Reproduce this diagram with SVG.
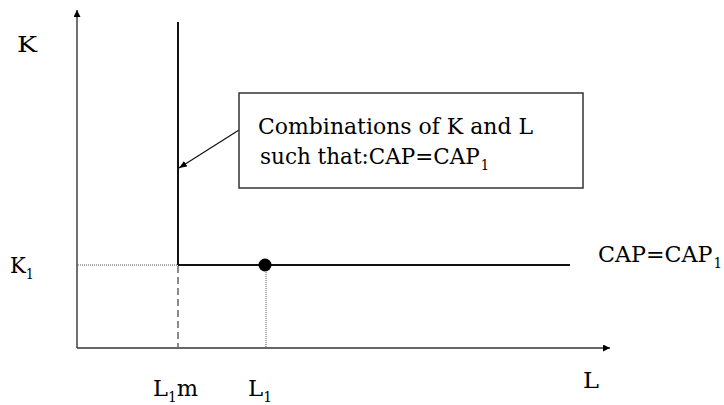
<svg xmlns="http://www.w3.org/2000/svg" width="724" height="405" viewBox="0 0 724 405">
<defs>
<style>
text{font-family:"DejaVu Serif","Liberation Serif",serif;fill:#000}
.t{font-size:23px}
.s{font-size:14px}
.axis{stroke:#333;stroke-width:1.4;fill:none}
.thick{stroke:#111;stroke-width:2;fill:none}
.dot{stroke:#555;stroke-width:1;stroke-dasharray:1 1;fill:none}
.dash{stroke:#666;stroke-width:1.5;stroke-dasharray:7 4;fill:none}
</style>
<marker id="ah" viewBox="0 0 10 10" refX="10" refY="5" markerWidth="7" markerHeight="7" markerUnits="userSpaceOnUse" orient="auto"><path d="M0,0 L10,5 L0,10 z" fill="#000"/></marker>
<marker id="ah2" viewBox="0 0 10 10" refX="10" refY="5" markerWidth="8" markerHeight="8" markerUnits="userSpaceOnUse" orient="auto"><path d="M0,1 L10,5 L0,9 z" fill="#000"/></marker>
</defs>
<g id="connectors">
<line class="axis" x1="77" y1="348" x2="77" y2="10" marker-end="url(#ah)"/>
<line class="axis" x1="77" y1="348" x2="610" y2="348" marker-end="url(#ah)"/>
<line class="thick" x1="178" y1="22" x2="178" y2="265"/>
<line class="thick" x1="178" y1="265" x2="570" y2="265"/>
<line class="dot" x1="78" y1="265" x2="177" y2="265"/>
<line class="dash" x1="178" y1="266" x2="178" y2="347"/>
<line class="dot" x1="266" y1="266" x2="266" y2="347"/>
<line stroke="#111" stroke-width="1.2" x1="239" y1="130" x2="179" y2="168" marker-end="url(#ah2)"/>
</g>
<g id="point">
<circle cx="265" cy="265" r="6.5" fill="#000"/>
</g>
<g id="box">
<rect x="239" y="93" width="344" height="95" fill="#fff" stroke="#333" stroke-width="1.5"/>
<text class="t" x="258" y="134" textLength="275" lengthAdjust="spacingAndGlyphs">Combinations of K and L</text>
<text class="t" x="260" y="164" font-size="22" textLength="229" lengthAdjust="spacingAndGlyphs">such that:CAP=CAP<tspan class="s" dx="1" dy="6">1</tspan></text>
</g>
<g id="labels">
<text class="t" x="17" y="52" textLength="20" lengthAdjust="spacingAndGlyphs">K</text>
<text class="t" x="10" y="273" textLength="24" lengthAdjust="spacingAndGlyphs">K<tspan class="s" dy="6">1</tspan></text>
<text class="t" x="598" y="262" textLength="124" lengthAdjust="spacingAndGlyphs">CAP=CAP<tspan class="s" dx="1" dy="6">1</tspan></text>
<text class="t" x="153" y="396" textLength="45" lengthAdjust="spacingAndGlyphs">L<tspan class="s" dy="6">1</tspan><tspan dy="-6">m</tspan></text>
<text class="t" x="248" y="396" textLength="24" lengthAdjust="spacingAndGlyphs">L<tspan class="s" dy="6">1</tspan></text>
<text class="t" x="583" y="388" textLength="16" lengthAdjust="spacingAndGlyphs">L</text>
</g>
</svg>
